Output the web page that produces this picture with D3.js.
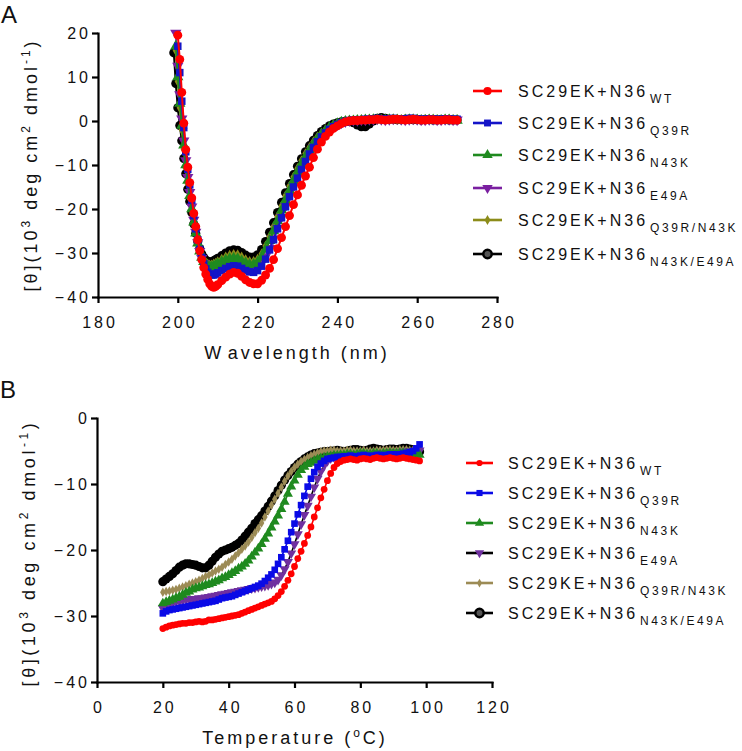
<!DOCTYPE html>
<html><head><meta charset="utf-8">
<script src="https://cdn.jsdelivr.net/npm/d3@7"></script>
<style>body{margin:0;background:#fff}svg{display:block}</style>
</head><body><svg id="c" width="742" height="751"></svg>
<script>
// ---------- Panel A data: CD spectra ----------
const wavelength = [199,199.5,200,200.5,201,201.5,202,202.5,203,203.5,204,204.5,205,205.5,206,206.5,207,207.5,208,208.5,209,209.5,210,
211,212,213,214,215,216,217,218,219,220,
221,222,223,224,225,226,227,228,229,230,
231,232,233,234,235,236,237,238,239,240,
241,242,243,244,245,246,247,248,249,250,
251,252,253,254,255,256,257,258,259,260,
261,262,263,264,265,266,267,268,269,270];
const cdWT = [null,null,19.5,14,6.5,-0.5,-6.5,-10.5,-14,-17.5,-21,-24,-27,-29.5,-31.5,-33.3,-34.8,-36,-37,-37.6,-37.8,-37.6,-37.2,
-36.3,-35.5,-34.8,-34.4,-34.6,-35.3,-36.1,-36.7,-37,-37,
-36.2,-35,-33.5,-31.5,-29,-26.5,-24,-21.5,-19,-16.8,
-14.6,-12.5,-10.5,-8.3,-6.4,-4.8,-3.5,-2.5,-1.7,-1.1,
-0.6,-0.2,0,0.1,0.1,0.2,0.2,0.3,0.3,0.4,
0.3,0.2,0.3,0.4,0.4,0.3,0.2,0.3,0.4,0.3,
0.2,0.2,0.3,0.3,0.2,0.2,0.3,0.3,0.2,0.2];
const cdQ39R = [null,null,17,11,4.5,-1.5,-7,-11,-14.5,-18,-21.5,-24.5,-27,-29.2,-31,-32.5,-33.6,-34.4,-34.8,-35,-35,-34.8,-34.5,
-34,-33.5,-33.1,-32.9,-33,-33.5,-34,-34.3,-34.4,-34,
-33,-31.4,-29.3,-27,-24.5,-22,-19.5,-17.2,-15,-13,
-11,-9.2,-7.5,-6,-4.7,-3.6,-2.7,-1.9,-1.3,-0.8,
-0.4,-0.1,0.1,0.2,0.3,0.3,0.4,0.4,0.5,0.6,
0.5,0.4,0.5,0.6,0.5,0.4,0.5,0.6,0.6,0.5,
0.4,0.4,0.5,0.5,0.4,0.4,0.5,0.5,0.4,0.4];
const cdN43K = [null,17,10,4,-1,-5.5,-10,-13.5,-17,-20,-23,-25.5,-27.8,-29.6,-31,-32,-32.7,-33,-33.2,-33.2,-33,-32.8,-32.5,
-32,-31.6,-31.3,-31.2,-31.3,-31.8,-32.3,-32.6,-32.6,-32.1,
-31,-29.2,-27.2,-25,-22.7,-20.3,-18,-15.8,-13.6,-11.6,
-9.8,-8.1,-6.6,-5.2,-4,-3,-2.2,-1.5,-1,-0.6,
-0.3,-0.1,0,0,0.1,0.1,0.2,0.2,0.3,0.3,
0.2,0.2,0.3,0.3,0.2,0.1,0.2,0.3,0.3,0.2,
0.1,0.1,0.2,0.2,0.1,0.1,0.2,0.2,0.1,0.1];
const cdE49A = [null,20,12.5,6,0.5,-4.5,-9,-12.8,-16.2,-19.5,-22.5,-25.2,-27.6,-29.6,-31.2,-32.4,-33.2,-33.7,-34,-34.1,-34,-33.8,-33.5,
-33,-32.6,-32.3,-32.1,-32.2,-32.7,-33.2,-33.5,-33.6,-33.2,
-32.3,-30.8,-28.9,-26.7,-24.3,-21.8,-19.3,-17,-14.8,-12.8,
-10.9,-9.1,-7.5,-6,-4.7,-3.6,-2.7,-1.9,-1.3,-0.8,
-0.4,-0.1,0.1,0.2,0.2,0.3,0.3,0.4,0.4,0.5,
0.4,0.3,0.4,0.5,0.5,0.4,0.3,0.4,0.5,0.4,
0.3,0.3,0.4,0.4,0.3,0.3,0.4,0.4,0.3,0.3];
const cdQ39RN43K = [null,16,9,3,-2,-6.5,-10.8,-14.3,-17.6,-20.5,-23.3,-25.7,-27.8,-29.4,-30.6,-31.5,-32.1,-32.5,-32.7,-32.7,-32.5,-32.3,-32,
-31.4,-30.9,-30.5,-30.3,-30.4,-30.9,-31.5,-31.9,-31.9,-31.4,
-30.2,-28.4,-26.3,-24,-21.7,-19.3,-17,-14.8,-12.7,-10.8,
-9,-7.4,-6,-4.7,-3.6,-2.7,-2,-1.4,-0.9,-0.5,
-0.2,0,0.1,0.2,0.2,0.3,0.3,0.4,0.4,0.4,
0.3,0.3,0.4,0.4,0.3,0.3,0.4,0.4,0.3,0.3,
0.3,0.4,0.4,0.3,0.3,0.3,0.4,0.4,0.3,0.3];
const cdN43KE49A = [15.5,8.5,3,-1,-4.5,-8.5,-12,-15.5,-18.3,-20.8,-23.4,-25.5,-27.4,-29,-30.2,-31,-31.6,-31.9,-32,-32,-31.8,-31.5,-31.2,
-30.6,-30,-29.5,-29.3,-29.4,-29.9,-30.5,-30.9,-30.9,-30.4,
-29.2,-27.4,-25.3,-23.1,-20.8,-18.5,-16.3,-14.2,-12.2,-10.3,
-8.6,-7,-5.6,-4.4,-3.3,-2.4,-1.7,-1.1,-0.7,-0.4,
-0.2,-0.1,-0.1,-0.4,-0.9,-1.3,-1.3,-0.7,0,0.6,
0.8,0.6,0.4,0.4,0.3,0.3,0.4,0.4,0.3,0.3,
0.2,0.3,0.3,0.2,0.2,0.3,0.3,0.2,0.2,0.2];

// ---------- Panel B data: thermal melts ----------
const temperature = [20,21,22,23,24,25,26,27,28,29,30,31,32,33,34,35,36,37,38,39,40,41,42,43,44,45,46,47,48,49,
50,51,52,53,54,55,56,57,58,59,60,61,62,63,64,65,66,67,68,69,70,71,72,73,74,75,76,77,78,79,
80,81,82,83,84,85,86,87,88,89,90,91,92,93,94,95,96,97,98];
const tmWT = [-31.9,-31.7,-31.5,-31.4,-31.3,-31.2,-31.1,-31.1,-31,-31,
-30.9,-30.8,-30.9,-30.8,-30.6,-30.6,-30.5,-30.4,-30.3,-30.2,
-30.1,-30,-29.9,-29.8,-29.6,-29.4,-29.2,-29,-28.8,-28.6,
-28.4,-28.2,-28,-27.8,-27.4,-26.9,-26.3,-25.5,-24.6,-23.6,
-22.5,-21.3,-20.2,-19,-17.8,-16.5,-15,-13.6,-12.1,-10.8,
-9.5,-8.4,-7.5,-6.9,-6.6,-6.4,-6.3,-6.2,-6.3,-6.4,
-6.2,-6.1,-6.2,-6.3,-6.1,-6,-6.1,-6.2,-6.1,-6,
-6.1,-6.2,-6.1,-6,-6.1,-6.2,-6.3,-6.4,-6.5];
const tmQ39R = [-29.6,-29.3,-29.1,-29,-28.9,-28.8,-28.7,-28.6,-28.5,-28.4,
-28.3,-28.2,-28.1,-28,-27.9,-27.8,-27.7,-27.5,-27.3,-27.2,
-27.1,-27,-26.8,-26.6,-26.4,-26.2,-26,-25.8,-25.6,-25.4,
-25.1,-24.7,-24.2,-23.7,-23,-22.1,-21.1,-19.9,-18.6,-17.3,
-16,-14.6,-13.2,-11.8,-10.4,-9.2,-8.2,-7.4,-6.9,-6.5,
-6.2,-6.1,-6,-5.9,-5.9,-5.8,-5.8,-5.7,-5.8,-5.8,
-5.7,-5.6,-5.7,-5.8,-5.7,-5.6,-5.6,-5.7,-5.6,-5.5,
-5.5,-5.6,-5.5,-5.4,-5.3,-5.2,-5,-4.6,-4];
const tmN43K = [-28.1,-27.9,-27.7,-27.5,-27.3,-27.1,-26.8,-26.5,-26.3,-26,
-25.8,-25.7,-25.5,-25.3,-25.2,-25,-24.8,-24.6,-24.3,-24.1,
-23.8,-23.5,-23.2,-22.8,-22.5,-22.1,-21.6,-21,-20.4,-19.8,
-19.1,-18.3,-17.5,-16.6,-15.7,-14.8,-13.8,-12.7,-11.5,-10.4,
-9.5,-8.6,-7.9,-7.4,-7,-6.8,-6.5,-6.3,-6.1,-6,
-5.9,-5.8,-5.7,-5.7,-5.6,-5.6,-5.5,-5.5,-5.6,-5.5,
-5.4,-5.4,-5.5,-5.5,-5.4,-5.4,-5.5,-5.4,-5.4,-5.3,
-5.4,-5.4,-5.3,-5.3,-5.4,-5.4,-5.5,-5.6,-5.6];
const tmE49A = [-28.8,-28.5,-28.2,-28,-27.8,-27.7,-27.6,-27.5,-27.5,-27.4,
-27.4,-27.3,-27.3,-27.2,-27.1,-27,-26.9,-26.8,-26.7,-26.6,
-26.5,-26.4,-26.3,-26.2,-26.1,-26,-25.9,-25.8,-25.7,-25.6,
-25.5,-25.4,-25.3,-25.1,-24.9,-24.5,-23.8,-22.9,-21.8,-20.5,
-19.1,-17.6,-16.1,-14.7,-13.3,-11.9,-10.5,-9.2,-8.1,-7.2,
-6.5,-6.1,-5.9,-5.8,-5.7,-5.6,-5.6,-5.5,-5.6,-5.5,
-5.4,-5.4,-5.5,-5.5,-5.4,-5.3,-5.4,-5.4,-5.3,-5.2,
-5.3,-5.3,-5.2,-5.1,-5.1,-5,-5,-4.9,-4.9];
const tmQ39RN43K = [-26.4,-26.3,-26.2,-26.1,-26,-25.8,-25.6,-25.4,-25.2,-25,
-24.8,-24.6,-24.3,-24,-23.8,-23.5,-23.2,-22.9,-22.6,-22.2,
-21.8,-21.4,-20.9,-20.4,-19.9,-19.4,-18.8,-18.1,-17.4,-16.7,
-15.9,-15,-14.1,-13.2,-12.3,-11.4,-10.5,-9.6,-8.8,-8.1,
-7.5,-7,-6.6,-6.3,-6,-5.7,-5.5,-5.3,-5.1,-5,
-5,-4.9,-4.9,-5,-5,-5,-4.9,-4.9,-5,-5,
-5,-4.9,-5,-5,-5,-4.9,-4.9,-4.9,-4.8,-4.8,
-4.9,-4.9,-4.8,-4.8,-4.8,-4.9,-4.9,-5,-5];
const tmN43KE49A = [-24.8,-24.4,-24,-23.6,-23.1,-22.6,-22.3,-22.1,-22.1,-22.2,
-22.3,-22.5,-22.7,-22.7,-22.3,-21.7,-21.1,-20.6,-20.2,-20,
-19.8,-19.6,-19.3,-19,-18.5,-17.9,-17.3,-16.7,-16,-15.4,
-14.8,-14.1,-13.4,-12.6,-11.8,-11,-10.2,-9.4,-8.7,-8.1,
-7.5,-7,-6.6,-6.2,-5.9,-5.6,-5.4,-5.3,-5.2,-5.1,
-5.1,-5,-5,-4.9,-5,-5.1,-5,-4.9,-4.8,-4.8,
-4.9,-5,-4.9,-4.7,-4.6,-4.7,-4.8,-4.9,-4.8,-4.7,
-4.7,-4.8,-4.7,-4.6,-4.6,-4.7,-4.8,-5,-5.1];

// ---------- labels / ticks ----------
const prefixA = ["SC29EK+N36","SC29EK+N36","SC29EK+N36","SC29EK+N36","SC29EK+N36","SC29EK+N36"];
const prefixB = ["SC29EK+N36","SC29EK+N36","SC29EK+N36","SC29EK+N36","SC29KE+N36","SC29EK+N36"];
const variants = ["WT","Q39R","N43K","E49A","Q39R/N43K","N43K/E49A"];
const wavelengthTicks = [180,200,220,240,260,280];
const cdTicks = [-40,-30,-20,-10,0,10,20];
const temperatureTicks = [0,20,40,60,80,100,120];
const meltTicks = [-40,-30,-20,-10,0];

const FONT = "'Liberation Sans', Arial, Helvetica, sans-serif";
const svg = d3.select("#c");

const stylesA = [
  {color:"#ff0000", line:"#ff0000", sym:d3.symbolCircle, size:62, rot:0},
  {color:"#1414c8", line:"#1414c8", sym:d3.symbolSquare, size:56, rot:0},
  {color:"#1f8a1f", line:"#1f8a1f", sym:d3.symbolTriangle, size:55, rot:0},
  {color:"#7a1fa0", line:"#7a1fa0", sym:d3.symbolTriangle, size:55, rot:180},
  {color:"#8c8c1a", line:"#8c8c1a", sym:d3.symbolDiamond, size:34, rot:0},
  {color:"#000000", line:"#000000", sym:d3.symbolCircle, size:66, rot:0, ring:true}
];
const stylesB = [
  {color:"#ff0000", line:"#ff0000", sym:d3.symbolCircle, size:36, rot:0},
  {color:"#0a0ae6", line:"#0a0ae6", sym:d3.symbolSquare, size:44, rot:0},
  {color:"#1f8a1f", line:"#1f8a1f", sym:d3.symbolTriangle, size:44, rot:0},
  {color:"#7030a0", line:"#000000", sym:d3.symbolTriangle, size:44, rot:180},
  {color:"#9c8b55", line:"#9c8b55", sym:d3.symbolDiamond, size:26, rot:0},
  {color:"#000000", line:"#000000", sym:d3.symbolCircle, size:66, rot:0, ring:true}
];

function drawAxes(x, y, xTicks, yTicks) {
  const gx = svg.append("g").attr("transform", `translate(0,${y.range()[0]})`)
    .call(d3.axisBottom(x).tickValues(xTicks).tickSize(6).tickSizeOuter(0).tickFormat(d3.format("d")));
  const gy = svg.append("g").attr("transform", `translate(${x.range()[0]},0)`)
    .call(d3.axisLeft(y).tickValues(yTicks).tickSize(6).tickSizeOuter(0).tickFormat(d3.format("d")));
  [gx, gy].forEach(g => {
    g.select(".domain").attr("stroke","#000").attr("stroke-width",2.2).attr("stroke-linecap","square");
    g.selectAll(".tick line").attr("stroke","#000").attr("stroke-width",2.2);
    g.selectAll("text").attr("font-family",FONT).attr("font-size",16).attr("fill","#111")
      .style("letter-spacing","3px");
  });
  gx.selectAll("text").attr("y",20).attr("dy","0.71em").attr("dx",1.5);
  gy.selectAll("text").attr("x",-7).attr("dy","0.36em");
}

function drawSeries(x, y, xs, seriesList, styles, lw) {
  const order = [5,4,3,2,1,0];
  order.forEach(i => {
    const vals = seriesList[i], st = styles[i];
    const pts = xs.map((d,j) => [d, vals[j]]).filter(p => p[1] !== null);
    svg.append("path").datum(pts)
      .attr("d", d3.line().x(p => x(p[0])).y(p => y(p[1])))
      .attr("fill","none").attr("stroke", st.line).attr("stroke-width", lw);
    svg.append("g").selectAll("path").data(pts).join("path")
      .attr("d", d3.symbol().type(st.sym).size(st.size))
      .attr("transform", p => `translate(${x(p[0])},${y(p[1])}) rotate(${st.rot})`)
      .attr("fill", st.color);
  });
}

function drawLegend(x0, lineW, textX, rows, prefixes, styles, symScale) {
  rows.forEach((cy, i) => {
    const st = styles[i];
    svg.append("line").attr("x1", x0).attr("x2", x0 + lineW).attr("y1", cy).attr("y2", cy)
      .attr("stroke", st.line).attr("stroke-width", 2.6);
    const m = svg.append("path")
      .attr("d", d3.symbol().type(st.sym).size(st.size * symScale))
      .attr("transform", `translate(${x0 + lineW/2},${cy}) rotate(${st.rot})`);
    if (st.ring) m.attr("fill","#555").attr("stroke","#000").attr("stroke-width",2.5);
    else m.attr("fill", st.color);
    const t = svg.append("text").attr("x", textX).attr("y", cy + 6)
      .attr("font-family", FONT).attr("font-size", 16).attr("fill","#111")
      .style("letter-spacing","3px").text(prefixes[i]);
    t.append("tspan").attr("dx", 2).attr("dy", 6).attr("font-size", 12)
      .style("letter-spacing","2.6px").text(variants[i]);
  });
}

function yTitle(cx, baselineX, spacing) {
  const t = svg.append("text")
    .attr("transform", `translate(${baselineX},${cx}) rotate(-90)`)
    .attr("text-anchor","middle").attr("font-family",FONT).attr("font-size",18)
    .attr("fill","#111").style("letter-spacing", spacing + "px");
  t.append("tspan").text("[θ](10");
  t.append("tspan").attr("dy",-7).attr("font-size",12).text("3");
  t.append("tspan").attr("dy",7).text(" deg cm");
  t.append("tspan").attr("dy",-7).attr("font-size",12).text("2");
  t.append("tspan").attr("dy",7).text(" dmol");
  t.append("tspan").attr("dy",-7).attr("font-size",12).text("-1");
  t.append("tspan").attr("dy",7).text(")");
}

// ---------- Panel A ----------
const xA = d3.scaleLinear().domain([180,280]).range([98,497]);
const yA = d3.scaleLinear().domain([-40,20]).range([297,33]);
drawSeries(xA, yA, wavelength, [cdWT,cdQ39R,cdN43K,cdE49A,cdQ39RN43K,cdN43KE49A], stylesA, 2);
drawAxes(xA, yA, wavelengthTicks, cdTicks);
yTitle(165, 37, 3);
{
  const t = svg.append("text").attr("x", 297).attr("y", 359).attr("text-anchor","middle")
    .attr("font-family",FONT).attr("font-size",18).attr("fill","#111").style("letter-spacing","3px");
  t.append("tspan").text("W");
  t.append("tspan").attr("dx",4).text("avelength (nm)");
}
drawLegend(473, 29, 518, [91,123,155,188,220,254], prefixA, stylesA, 0.85);
svg.append("text").attr("x",1).attr("y",23).attr("font-family",FONT).attr("font-size",24).attr("fill","#111").text("A");

// ---------- Panel B ----------
const xB = d3.scaleLinear().domain([0,120]).range([97,492]);
const yB = d3.scaleLinear().domain([-40,0]).range([682,418]);
drawSeries(xB, yB, temperature, [tmWT,tmQ39R,tmN43K,tmE49A,tmQ39RN43K,tmN43KE49A], stylesB, 1.6);
drawAxes(xB, yB, temperatureTicks, meltTicks);
yTitle(553, 35, 3.6);
{
  const t = svg.append("text").attr("x", 295).attr("y", 744).attr("text-anchor","middle")
    .attr("font-family",FONT).attr("font-size",18).attr("fill","#111").style("letter-spacing","3px");
  t.append("tspan").text("Temperature (");
  t.append("tspan").attr("dy",-7).attr("font-size",12).text("o");
  t.append("tspan").attr("dy",7).text("C)");
}
drawLegend(466, 27, 508, [463,493,523,553,583,613], prefixB, stylesB, 0.85);
svg.append("text").attr("x",0).attr("y",398).attr("font-family",FONT).attr("font-size",24).attr("fill","#111").text("B");
</script></body></html>
